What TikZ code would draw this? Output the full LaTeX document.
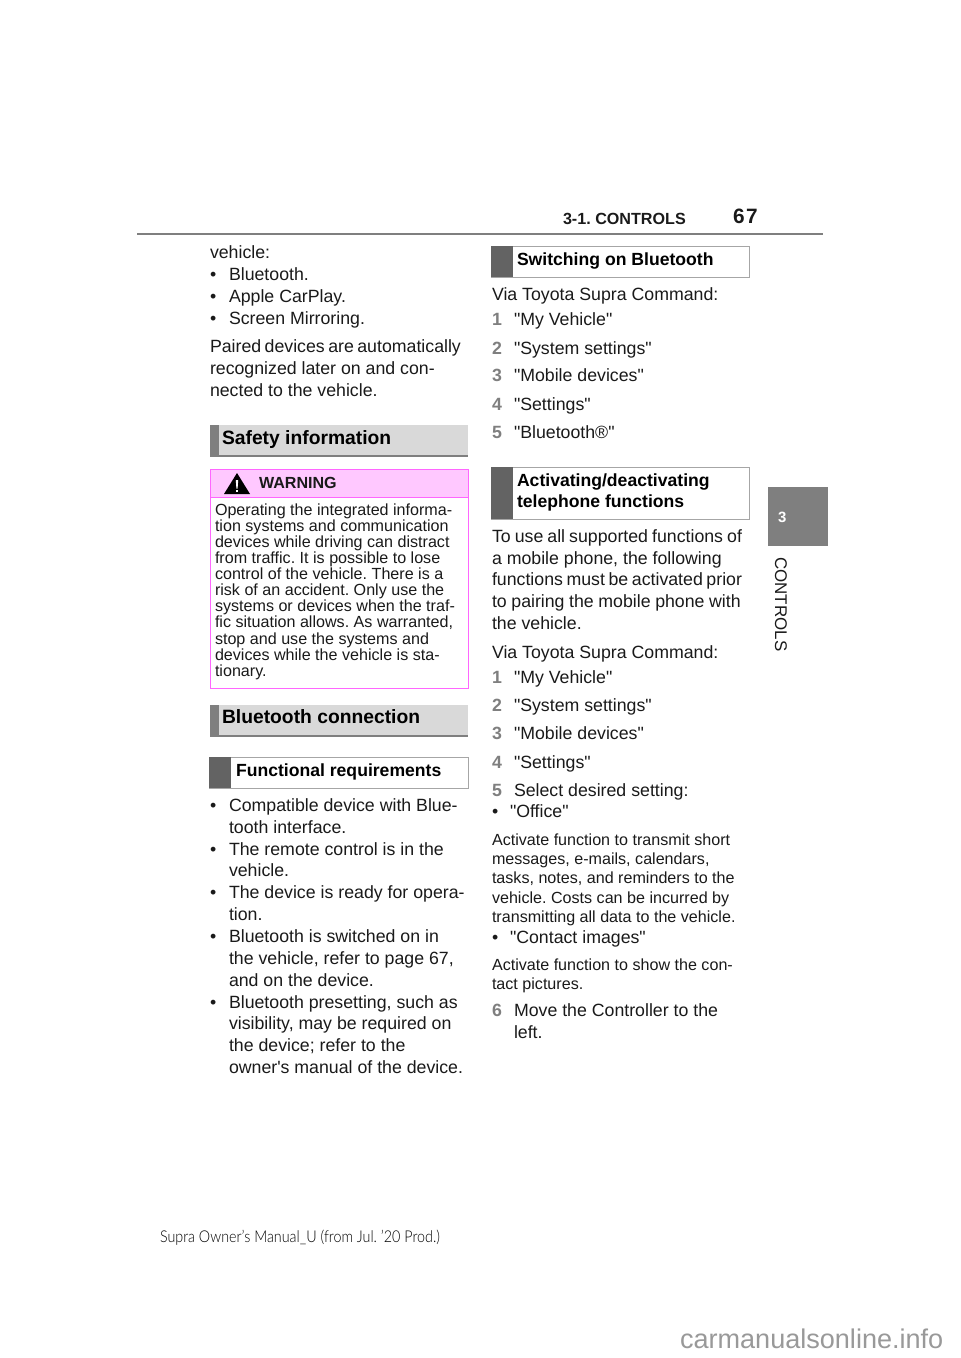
\documentclass[tikz,border=0pt]{standalone}
\usepackage{fontspec}
\newfontfamily\af{Liberation Sans}
\newfontfamily\ft[FakeStretch=0.88]{Lato Light}
\usetikzlibrary{positioning}
\definecolor{ink}{HTML}{1A1A1A}
\definecolor{tabgray}{HTML}{7F7F7F}
\definecolor{bargray}{HTML}{636363}
\definecolor{headgray}{HTML}{D9D9D9}
\definecolor{edgegray}{HTML}{A6A6A6}
\definecolor{wpink}{HTML}{FFC8FF}
\definecolor{wedge}{HTML}{FF66FF}
\tikzset{
 base/.style={anchor=base west,inner sep=0pt,outer sep=0pt,text=ink},
 body/.style={base,font=\af\fontsize{13.3pt}{16pt}\selectfont},
 num/.style={base,text=tabgray,font=\af\bfseries\fontsize{13.3pt}{16pt}\selectfont},
 small/.style={base,font=\af\fontsize{12.08pt}{14pt}\selectfont},
 heada/.style={base,text=black,font=\af\bfseries\fontsize{14.46pt}{18pt}\selectfont},
 headb/.style={base,text=black,font=\af\bfseries\fontsize{13.2pt}{16pt}\selectfont},
 subbox/.style={fill=white,draw=edgegray,line width=.75pt},
}
\newcounter{ln}
\newcommand{\mytext}[4]{\stepcounter{ln}\node[#1] (ln\arabic{ln}) at (#2,#3) {#4};}
\newcommand{\sect}[2]{%
 \fill[headgray] (210,#1) rectangle (468,#2);
 \fill[tabgray] (210,#1) rectangle (219,#2);
 \draw[tabgray,line width=1.5pt] (210,#2-1) -- (468,#2-1);}
\newcommand{\sub}[4]{%
 \draw[subbox] (#1,#2) rectangle (#3,#4);
 \fill[bargray] (#1,#2) rectangle (#1+22,#4);}
\begin{document}
\frenchspacing
\begin{tikzpicture}[x=.75pt,y=-.75pt]
\useasboundingbox (0,0) rectangle (960,1358);
\fill[white] (0,0) rectangle (960,1358);
% header
\draw[tabgray,line width=2.2pt] (137,234) -- (823,234);
\mytext{base,text=ink,font=\af\bfseries\fontsize{12.1pt}{14pt}\selectfont}{563}{225}{3-1. CONTROLS}
\mytext{base,text=ink,font=\af\bfseries\fontsize{15.6pt}{18pt}\selectfont}{733}{224}{6\kern1.2pt 7}
% side tab
\fill[tabgray] (768,487) rectangle (828,546);
\mytext{base,text=white,font=\af\bfseries\fontsize{11.2pt}{12pt}\selectfont}{778}{522}{3}
\node[anchor=base west,inner sep=0pt,rotate=-90,text=ink,font=\af\fontsize{12.7pt}{16pt}\selectfont] (side) at (775,557) {CONTROLS};
% left column
\mytext{body}{210}{259}{vehicle:}
\mytext{body}{210}{281}{•}\mytext{body}{229}{281}{Bluetooth.}
\mytext{body}{210}{303}{•}\mytext{body}{229}{303}{Apple CarPlay.}
\mytext{body}{210}{325}{•}\mytext{body}{229}{325}{Screen Mirroring.}
\mytext{body}{210}{353}{\spaceskip=2.6pt Paired devices are automatically}
\mytext{body}{210}{374}{recognized later on and con-}
\mytext{body}{210}{396}{nected to the vehicle.}
\sect{425}{457}
\mytext{heada}{222}{444}{Safety information}
% warning
\fill[wpink] (210,469) rectangle (468,497);
\draw[wedge,line width=.75pt] (210,469) rectangle (468,688);
\draw[wedge,line width=.75pt] (210,497) -- (468,497);
\fill[black] (237,473) -- (250,494) -- (224,494) -- cycle;
\fill[white] (235.8,480) -- (238.2,480) -- (237.6,488.5) -- (236.4,488.5) -- cycle;
\fill[white] (236,489.6) rectangle (238,491.8);
\mytext{base,text=ink,font=\af\bfseries\fontsize{12.06pt}{14pt}\selectfont}{259}{488}{WARNING}
\mytext{small}{215}{515}{Operating the integrated informa-}
\mytext{small}{215}{531}{tion systems and communication}
\mytext{small}{215}{547}{devices while driving can distract}
\mytext{small}{215}{563}{from traffic. It is possible to lose}
\mytext{small}{215}{579}{control of the vehicle. There is a}
\mytext{small}{215}{595}{risk of an accident. Only use the}
\mytext{small}{215}{611}{systems or devices when the traf-}
\mytext{small}{215}{627}{fic situation allows. As warranted,}
\mytext{small}{215}{644}{stop and use the systems and}
\mytext{small}{215}{660}{devices while the vehicle is sta-}
\mytext{small}{215}{676}{tionary.}
\sect{705}{737}
\mytext{heada}{222}{723}{Bluetooth connection}
\sub{209}{757}{468}{788}
\mytext{headb}{236}{776}{Functional requirements}
\mytext{body}{210}{811}{•}\mytext{body}{229}{811}{Compatible device with Blue-}
\mytext{body}{229}{833}{tooth interface.}
\mytext{body}{210}{855}{•}\mytext{body}{229}{855}{The remote control is in the}
\mytext{body}{229}{876}{vehicle.}
\mytext{body}{210}{898}{•}\mytext{body}{229}{898}{The device is ready for opera-}
\mytext{body}{229}{920}{tion.}
\mytext{body}{210}{942}{•}\mytext{body}{229}{942}{Bluetooth is switched on in}
\mytext{body}{229}{964}{the vehicle, refer to page 67,}
\mytext{body}{229}{986}{and on the device.}
\mytext{body}{210}{1008}{•}\mytext{body}{229}{1008}{Bluetooth presetting, such as}
\mytext{body}{229}{1029}{visibility, may be required on}
\mytext{body}{229}{1051}{the device; refer to the}
\mytext{body}{229}{1073}{owner's manual of the device.}
% right column
\sub{491}{246.5}{749}{277.5}
\mytext{headb}{517}{266}{Switching on Bluetooth}
\mytext{body}{492}{301}{Via Toyota Supra Command:}
\mytext{num}{492}{326}{1}\mytext{body}{514}{326}{"My Vehicle"}
\mytext{num}{492}{354}{2}\mytext{body}{514}{354}{"System settings"}
\mytext{num}{492}{382}{3}\mytext{body}{514}{382}{"Mobile devices"}
\mytext{num}{492}{410}{4}\mytext{body}{514}{410}{"Settings"}
\mytext{num}{492}{438}{5}\mytext{body}{514}{438}{"Bluetooth®"}
\sub{491}{467}{749}{519}
\mytext{headb}{517}{486}{Activating/deactivating}
\mytext{headb}{517}{507}{telephone functions}
\mytext{body}{492}{542}{\spaceskip=3.04pt To use all supported functions of}
\mytext{body}{492}{564}{a mobile phone, the following}
\mytext{body}{492}{585}{\spaceskip=2.7pt functions must be activated prior}
\mytext{body}{492}{607}{\spaceskip=3.45pt to pairing the mobile phone with}
\mytext{body}{492}{629}{the vehicle.}
\mytext{body}{492}{658}{Via Toyota Supra Command:}
\mytext{num}{492}{683}{1}\mytext{body}{514}{683}{"My Vehicle"}
\mytext{num}{492}{711}{2}\mytext{body}{514}{711}{"System settings"}
\mytext{num}{492}{739}{3}\mytext{body}{514}{739}{"Mobile devices"}
\mytext{num}{492}{768}{4}\mytext{body}{514}{768}{"Settings"}
\mytext{num}{492}{796}{5}\mytext{body}{514}{796}{Select desired setting:}
\mytext{body}{492}{817}{•}\mytext{body}{510}{817}{"Office"}
\mytext{small}{492}{845}{Activate function to transmit short}
\mytext{small}{492}{864}{messages, e-mails, calendars,}
\mytext{small}{492}{883}{tasks, notes, and reminders to the}
\mytext{small}{492}{903}{vehicle. Costs can be incurred by}
\mytext{small}{492}{922}{transmitting all data to the vehicle.}
\mytext{body}{492}{943}{•}\mytext{body}{510}{943}{"Contact images"}
\mytext{small}{492}{970}{Activate function to show the con-}
\mytext{small}{492}{989}{tact pictures.}
\mytext{num}{492}{1016}{6}\mytext{body}{514}{1016}{Move the Controller to the}
\mytext{body}{514}{1038}{left.}
% footer
\mytext{base,text=black,font=\ft\fontsize{12.2pt}{14pt}\selectfont}{160}{1242}{Supra Owner’s Manual\_U (from Jul. ’20 Prod.)}
\mytext{base,text=black!40,font=\af\fontsize{20.3pt}{22pt}\selectfont}{680}{1348}{carmanualsonline.info}
\end{tikzpicture}
\end{document}
